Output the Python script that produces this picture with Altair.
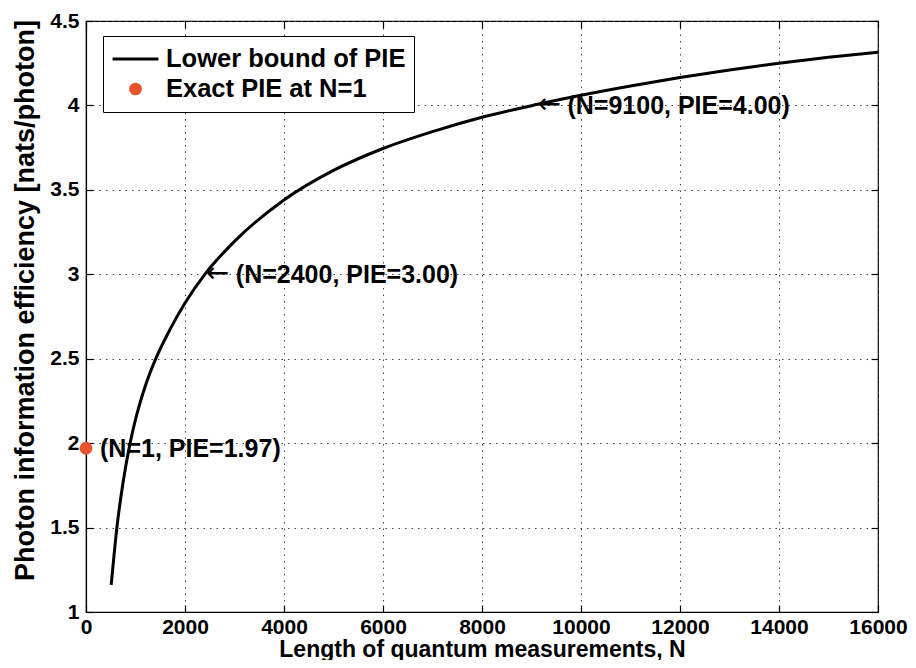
import altair as alt
import pandas as pd

# ---- data ----
N_vals = [509, 624, 750, 891, 1000, 1200, 1395, 1700, 2000, 2400, 3000, 4000, 5000,
          6000, 7000, 8000, 9100, 10000, 11000, 12000, 13000, 14000, 15000, 16000]
PIE_vals = [1.16, 1.50, 1.77, 2.00, 2.14, 2.34, 2.49, 2.675, 2.83, 3.00, 3.195, 3.44, 3.615,
            3.745, 3.845, 3.93, 4.005, 4.06, 4.115, 4.165, 4.21, 4.25, 4.285, 4.315]

exact_N = [0]
exact_PIE = [1.97]
series_names = ["Lower bound of PIE", "Exact PIE at N=1"]

ann_N = [1, 2400, 9100]
ann_PIE = [1.97, 3.00, 4.00]
ann_text = ["(N=1, PIE=1.97)", "(N=2400, PIE=3.00)", "(N=9100, PIE=4.00)"]
ARROW = "\u2190"

x_ticks = [0, 2000, 4000, 6000, 8000, 10000, 12000, 14000, 16000]
y_ticks = [1, 1.5, 2, 2.5, 3, 3.5, 4, 4.5]

FONT = "Liberation Sans"
RED = "#e8532b"

curve = pd.DataFrame({"N": N_vals, "PIE": PIE_vals})
exact = pd.DataFrame({"N": exact_N, "PIE": exact_PIE, "series": [series_names[1]]})
ann = pd.DataFrame({"N": ann_N, "PIE": ann_PIE, "label": ann_text})

xscale = alt.Scale(domain=[0, 16000], nice=False, zero=False)
yscale = alt.Scale(domain=[1, 4.5], nice=False, zero=False)

xaxis = alt.Axis(values=x_ticks, format="d", title="Length of quantum measurements, N",
                 labelFlush=False, grid=True, gridDash=[1.5, 5], gridColor="#444",
                 gridWidth=1, ticks=False, labelPadding=4,
                 titleY=44, titleBaseline="alphabetic", titleFontSize=23, labelFontSize=21)
yaxis = alt.Axis(values=y_ticks, format="~g", title="Photon information efficiency [nats/photon]",
                 labelFlush=False, grid=True, gridDash=[1.5, 5], gridColor="#444",
                 gridWidth=1, ticks=False, labelPadding=7,
                 titleX=-61, titleY=279, titleAlign="center", titleBaseline="middle",
                 titleFontSize=27, labelFontSize=21)

line = alt.Chart(curve).mark_line(color="black", strokeWidth=3, interpolate="monotone").encode(
    x=alt.X("N:Q", scale=xscale, axis=xaxis),
    y=alt.Y("PIE:Q", scale=yscale, axis=yaxis),
)

legend = alt.Legend(
    title=None, orient="none", legendX=17, legendY=15, columns=1, clipHeight=30,
    fillColor="white", strokeColor="black", padding=8,
    labelFont=FONT, labelFontWeight="bold", labelFontSize=25.5, labelColor="black",
    labelLimit=400,
    symbolStrokeWidth=3, symbolFillColor=RED, symbolOpacity=1, labelOffset=6, rowPadding=0,
)

point = alt.Chart(exact).mark_point(filled=False, fill=RED, strokeWidth=3, opacity=1).encode(
    x="N:Q",
    y="PIE:Q",
    color=alt.Color("series:N", scale=alt.Scale(domain=series_names, range=["black", RED]),
                    legend=legend),
    shape=alt.Shape("series:N", scale=alt.Scale(domain=series_names, range=["stroke", "circle"]),
                    legend=legend),
    size=alt.Size("series:N", scale=alt.Scale(domain=series_names, range=[2100, 95]),
                  legend=legend),
)

t_first = alt.Chart(ann).transform_filter("datum.N == 1").mark_text(
    align="left", baseline="middle", dx=14, dy=1, font=FONT, fontWeight="bold",
    fontSize=25, color="black").encode(x="N:Q", y="PIE:Q", text="label:N")

t_rest = alt.Chart(ann).transform_filter("datum.N > 1").mark_text(
    align="left", baseline="middle", dx=31, dy=1, font=FONT, fontWeight="bold",
    fontSize=25, color="black").encode(x="N:Q", y="PIE:Q", text="label:N")

arrows = alt.Chart(ann).transform_filter("datum.N > 1").mark_text(
    align="left", baseline="middle", dx=1, dy=0, font="DejaVu Sans", fontWeight="normal",
    fontSize=28, color="black", text=ARROW).encode(x="N:Q", y="PIE:Q")


def tick_layer(xorient, yorient):
    # invisible layer whose axes carry only inward ticks (offset into the plot)
    return alt.Chart(curve).mark_line(opacity=0).encode(
        x=alt.X("N:Q", scale=xscale,
                axis=alt.Axis(orient=xorient, values=x_ticks, labels=False, title=None,
                              grid=False, domain=False, tickSize=7, offset=-7)),
        y=alt.Y("PIE:Q", scale=yscale,
                axis=alt.Axis(orient=yorient, values=y_ticks, labels=False, title=None,
                              grid=False, domain=False, tickSize=7, offset=-7)),
    )


main = alt.layer(line, point, arrows, t_first, t_rest)

chart = alt.layer(main, tick_layer("bottom", "left"), tick_layer("top", "right")).resolve_scale(
    x="independent", y="independent"
).properties(
    width=792, height=591,
    autosize=alt.AutoSizeParams(type="none"),
    padding={"left": 78, "top": 13, "right": 30, "bottom": 48},
).configure_axis(
    labelFont=FONT, titleFont=FONT, labelFontWeight="bold", titleFontWeight="bold",
    labelColor="black", titleColor="black", domainColor="black", domainWidth=1.2,
    tickColor="black", tickWidth=1.2,
).configure_view(stroke="black", strokeWidth=1.2)

chart.save("out.html", embed_options={"renderer": "svg", "actions": False})
